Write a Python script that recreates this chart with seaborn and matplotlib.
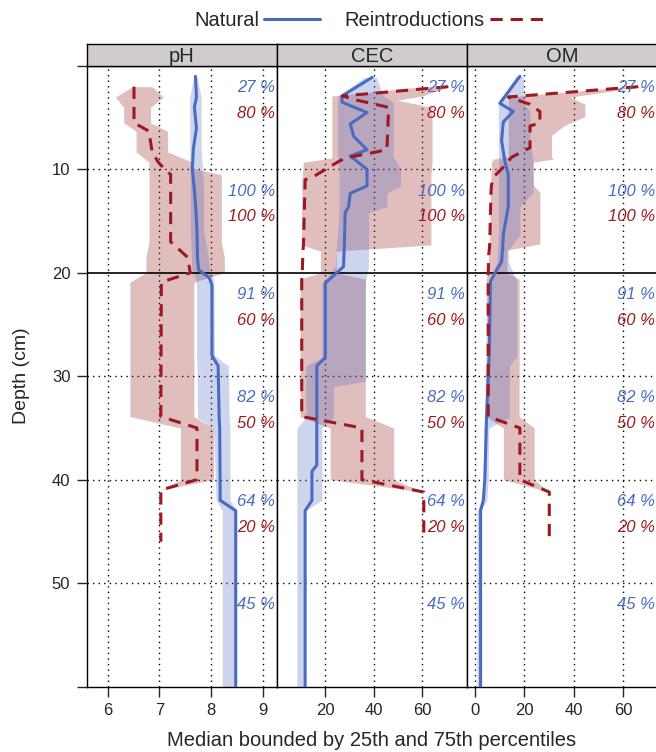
import numpy as np
import matplotlib
matplotlib.use("Agg")
import matplotlib.pyplot as plt
import matplotlib.transforms as mtransforms
from matplotlib.lines import Line2D
import seaborn as sns

nan = np.nan

# Panels
panels = ["pH", "CEC", "OM"]

# pH - natural: depth (cm), median, 25th, 75th percentile
ph_nat_depth = [1, 3, 4, 6, 8, 10, 12, 14, 16, 18.5, 19.7, 20.5, 21.2, 28, 29, 34, 35, 42, 43, 60]
ph_nat_med = [7.70, 7.72, 7.68, 7.72, 7.66, 7.64, 7.68, 7.71, 7.73, 7.74, 7.76, 7.97, 8.02, 8.02, 8.14, 8.16, 8.17, 8.18, 8.48, 8.48]
ph_nat_q25 = [7.67, 7.59, 7.59, 7.59, 7.59, 7.60, 7.60, 7.60, 7.60, 7.62, 7.63, 7.70, 7.72, 7.72, 7.73, 7.74, 8.05, 8.10, 8.22, 8.22]
ph_nat_q75 = [7.73, 7.81, 7.81, 7.81, 7.81, 7.84, 7.86, 7.86, 7.86, 7.95, 7.97, 8.04, 8.06, 8.07, 8.34, 8.35, 8.37, 8.37, 8.50, 8.50]

# pH - reintroductions
ph_re_depth = [2, 3, 4, 5.5, 6.3, 8.3, 9.3, 9.9, 10.5, 17, 18.5, 20, 20.9, 33.9, 35, 40, 41, 46]
ph_re_med = [6.51, 6.51, 6.51, 6.51, 6.80, 6.86, 6.98, 7.09, 7.22, 7.22, 7.55, 7.60, 7.04, 7.03, 7.73, 7.73, 7.03, 7.03]
ph_re_q25 = [6.48, 6.15, 6.31, 6.31, 6.55, 6.55, 6.80, 6.80, 6.80, 6.80, 6.74, 6.74, 6.43, 6.43, 7.41, 7.41, 7.03, nan]
ph_re_q75 = [6.86, 7.08, 6.83, 6.83, 7.16, 7.16, 7.64, 7.64, 8.20, 8.20, 8.26, 8.26, 7.67, 7.67, 8.05, 8.05, 7.03, nan]

# CEC - natural
cec_nat_depth = [1.1, 2.9, 3.5, 4.5, 5.6, 6.8, 8.1, 8.7, 10.0, 11.6, 12.3, 13.6, 14.2, 17.7, 19.4, 21.0, 28.2, 29.0, 30.5, 31.0, 34.0, 35.0, 38.6, 39.2, 42.0, 43.0, 60]
cec_nat_med = [39.3, 26.9, 26.9, 37.2, 30.3, 31.7, 37.2, 30.3, 37.2, 37.2, 30.3, 29.6, 28.2, 27.8, 27.5, 20.0, 20.0, 16.5, 16.5, 16.5, 16.5, 16.5, 16.5, 14.5, 14.5, 11.7, 11.7]
cec_nat_q25 = [36.0, 25.3, 25.0, 25.0, 25.0, 25.0, 25.0, 25.0, 25.7, 25.7, 25.7, 25.7, 25.7, 24.5, 24.0, 18.5, 18.5, 12.0, 12.0, 12.0, 12.0, 8.3, 8.3, 8.3, 8.3, 8.3, 8.3]
cec_nat_q75 = [41.0, 44.0, 48.0, 48.0, 48.0, 48.0, 48.0, 48.0, 51.0, 51.0, 45.4, 45.4, 37.8, 37.8, 37.8, 36.5, 36.5, 36.5, 36.5, 23.4, 23.4, 18.6, 18.6, 18.6, 18.6, 11.7, 11.7]

# CEC - reintroductions
cec_re_depth = [2.0, 2.9, 3.3, 4.0, 8.1, 8.9, 9.3, 10.6, 11.0, 17.3, 17.9, 20.0, 20.6, 33.9, 35.0, 40.0, 41.2, 45.5]
cec_re_med = [70.7, 27.0, 33.0, 46.1, 45.4, 28.2, 25.0, 15.8, 11.7, 11.0, 10.8, 10.5, 10.3, 10.3, 35.1, 35.1, 60.6, 60.6]
cec_re_q25 = [60.0, 22.7, 22.7, 22.7, 22.7, 22.7, 11.0, 10.5, 10.3, 10.2, 18.0, 18.0, 9.6, 9.6, 22.0, 22.0, 60.6, nan]
cec_re_q75 = [71.0, 60.0, 49.6, 64.0, 64.0, 64.0, 64.0, 63.5, 63.5, 63.5, 24.5, 24.5, 36.5, 36.5, 48.2, 48.2, 60.6, nan]

# OM - natural
om_nat_depth = [1.0, 3.6, 4.4, 5.4, 7.2, 9.2, 10.5, 12.2, 13.6, 16.3, 17.8, 18.9, 20.8, 28.0, 29.0, 34.0, 35.0, 40.0, 42.0, 43.0, 60]
om_nat_med = [18.2, 10.1, 15.5, 11.5, 10.8, 12.1, 13.5, 13.5, 13.5, 11.5, 11.2, 10.8, 6.3, 5.8, 5.6, 4.7, 4.6, 4.0, 3.4, 2.3, 2.3]
om_nat_q25 = [16.5, 9.4, 9.5, 9.5, 9.5, 9.5, 9.5, 9.5, 9.5, 9.5, 9.2, 9.0, 5.8, 5.4, 4.2, 4.0, 3.6, 3.4, 2.8, 0.8, 0.8]
om_nat_q75 = [19.5, 20.0, 22.3, 22.3, 22.3, 23.6, 23.6, 23.6, 18.2, 18.2, 13.5, 13.5, 17.0, 17.0, 14.0, 14.0, 5.6, 5.4, 4.8, 2.3, 2.3]

# OM - reintroductions
om_re_depth = [2.0, 3.0, 3.7, 4.4, 4.9, 5.5, 5.8, 6.7, 7.9, 8.8, 9.0, 9.3, 10.6, 11.5, 12.2, 17.2, 17.8, 18.2, 20.0, 20.6, 33.9, 35.0, 40.0, 41.2, 46.1]
om_re_med = [66.1, 13.5, 22.3, 26.3, 26.3, 26.3, 22.3, 22.3, 22.3, 15.0, 14.2, 13.5, 8.1, 6.7, 6.5, 6.0, 5.8, 5.6, 5.4, 5.4, 5.4, 18.2, 18.2, 30.1, 30.1]
om_re_q25 = [62.0, 13.5, 13.5, 13.5, 13.5, 13.5, 13.5, 13.5, 13.5, 13.5, 7.4, 6.7, 6.5, 6.3, 6.2, 6.0, 5.6, 5.5, 5.4, 4.5, 4.5, 11.5, 11.5, 30.1, nan]
om_re_q75 = [68.0, 38.5, 44.5, 44.5, 44.5, 38.5, 36.0, 31.0, 31.0, 31.0, 31.7, 23.6, 23.6, 23.6, 26.3, 26.3, 13.0, 13.0, 13.0, 17.9, 17.9, 24.0, 24.0, 30.1, nan]

# % of profiles contributing, per 10 cm slice
slice_top = [0, 10, 20, 30, 40, 50]
nat_pct = [27, 100, 91, 82, 64, 45]
re_pct = [80, 100, 60, 50, 20]

xlims = {"pH": (5.60, 9.28), "CEC": (0.1, 78.4), "OM": (-3.2, 73.7)}
xticks = {"pH": [6, 7, 8, 9], "CEC": [20, 40, 60], "OM": [0, 20, 40, 60]}

data = {
    "pH": ((ph_nat_depth, ph_nat_med, ph_nat_q25, ph_nat_q75),
           (ph_re_depth, ph_re_med, ph_re_q25, ph_re_q75)),
    "CEC": ((cec_nat_depth, cec_nat_med, cec_nat_q25, cec_nat_q75),
            (cec_re_depth, cec_re_med, cec_re_q25, cec_re_q75)),
    "OM": ((om_nat_depth, om_nat_med, om_nat_q25, om_nat_q75),
           (om_re_depth, om_re_med, om_re_q25, om_re_q75)),
}

BLUE = "#4a6bc0"
RED = "#9c1a1f"
RED_FILL = "#9e2a2a"
DASH = (0, (4, 2.6))
DOT = (0, (1, 3))

sns.set_style("white")
plt.rcParams["font.family"] = ["Liberation Sans", "DejaVu Sans"]

W, H = 656, 752
fig = plt.figure(figsize=(W / 100, H / 100), dpi=100)

x0, pw = 87, 190
top, bottom = 66, 686.5
strip_top = 44


def draw_panel(ax, name):
    (nd, nm, nq1, nq3), (rd, rm, rq1, rq3) = data[name]
    ax.fill_betweenx(rd, rq1, rq3, color=RED_FILL, alpha=0.3, lw=0, zorder=1)
    ax.fill_betweenx(nd, nq1, nq3, color=BLUE, alpha=0.28, lw=0, zorder=1.1)
    sns.lineplot(x=nm, y=nd, ax=ax, color=BLUE, lw=2.2, sort=False, estimator=None, zorder=3)
    sns.lineplot(x=rm, y=rd, ax=ax, color=RED, lw=2.2, sort=False, estimator=None,
                 linestyle=DASH, zorder=3.1)

    for x in xticks[name]:
        ax.axvline(x, color="k", lw=1, ls=DOT, zorder=0.5)
    for y in [10, 30, 40, 50]:
        ax.axhline(y, color="k", lw=1, ls=DOT, zorder=0.5)
    ax.axhline(20, color="k", lw=1.2, zorder=2)

    # percent labels
    trans = mtransforms.blended_transform_factory(ax.transAxes, ax.transData)
    for t, v in zip(slice_top, nat_pct):
        ax.text(0.99, t + 2.1, f"{v} %", transform=trans, ha="right", va="center",
                color=BLUE, fontsize=12, style="italic", zorder=4)
    for t, v in zip(slice_top, re_pct):
        ax.text(0.99, t + 4.6, f"{v} %", transform=trans, ha="right", va="center",
                color=RED, fontsize=12, style="italic", zorder=4)

    ax.set_xlim(*xlims[name])
    ax.set_ylim(60, 0)
    ax.set_xticks(xticks[name])
    ax.set_xlabel("")
    ax.set_ylabel("")
    ax.tick_params(axis="x", direction="out", length=7, width=1, labelsize=12, pad=5,
                   bottom=True, top=False)
    for s in ax.spines.values():
        s.set_color("k")
        s.set_linewidth(1)


for i, name in enumerate(panels):
    left = x0 + i * pw
    ax = fig.add_axes([left / W, 1 - bottom / H, pw / W, (bottom - top) / H])
    draw_panel(ax, name)
    if i == 0:
        ax.set_yticks([0, 10, 20, 30, 40, 50, 60])
        ax.set_yticklabels(["", "10", "20", "30", "40", "50", ""])
        ax.tick_params(axis="y", direction="out", length=7, width=1, labelsize=12, pad=5,
                       left=True, right=False)
    else:
        ax.set_yticks([])

    # strip header
    sax = fig.add_axes([left / W, 1 - top / H, pw / W, (top - strip_top) / H])
    sax.set_facecolor("#d0cccc")
    sax.set_xticks([])
    sax.set_yticks([])
    for s in sax.spines.values():
        s.set_color("k")
        s.set_linewidth(1)
    sax.text(0.5, 0.45, name, ha="center", va="center", fontsize=14.5, transform=sax.transAxes)

# legend on top: text first, then line
handles = [Line2D([], [], color=BLUE, lw=2.2),
           Line2D([], [], color=RED, lw=2.2, ls=DASH)]
fig.legend(handles, ["Natural", "Reintroductions"], ncol=2, markerfirst=False, frameon=False,
           loc="center", bbox_to_anchor=(370 / W, 1 - 21 / H), fontsize=14.5,
           handlelength=2.8, handletextpad=0.25, columnspacing=1.2)

fig.text(22 / W, 1 - 376 / H, "Depth (cm)", rotation=90, ha="center", va="center", fontsize=14)
fig.text(372 / W, 1 - 741 / H, "Median bounded by 25th and 75th percentiles",
         ha="center", va="center", fontsize=14.5)

fig.savefig("out.png", dpi=100)
